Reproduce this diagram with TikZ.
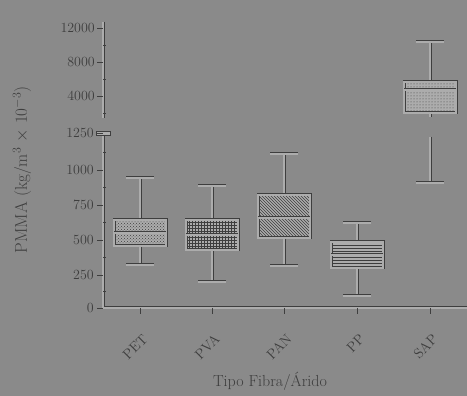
\documentclass[tikz,border=0pt]{standalone}
\usetikzlibrary{patterns}
\definecolor{bg}{RGB}{138,138,138}
\definecolor{ln}{RGB}{172,172,172}
\definecolor{dk}{RGB}{62,62,62}
\begin{document}
\begin{tikzpicture}[x=1pt,y=-1pt,
  emb/.style={draw=dk, double=ln, double distance=2pt, line width=0.5pt},
  thin/.style={draw=dk, line width=0.6pt},
  lbl/.style={text=dk, font=\fontsize{14}{14}\selectfont, inner sep=1pt},
  xlbl/.style={text=dk, font=\fontsize{14}{14}\selectfont, inner sep=1pt, rotate=45, anchor=east}]
\fill[bg] (0,0) rectangle (467,396);
\useasboundingbox (0,0) rectangle (467,396);

% axes
\draw[emb] (103,22) -- (103,118);
\draw[emb] (103,135) -- (103,308) -- (467,308);
\draw[thin, fill=ln] (96,131.5) rectangle (110,135);

% y ticks and labels (upper)
\foreach \y/\t [count=\i] in {28/12000,62/8000,96/4000}{
  \draw[thin] (97,\y) -- (103,\y);
  \node[lbl, anchor=east] (yu\i) at (96,\y) {\t};
}
\foreach \y in {45,79,113}{ \draw[thin] (103,\y) -- (106,\y); }
% y ticks and labels (lower)
\foreach \y/\t [count=\i] in {308/0,275/250,240/500,205/750,170/1000,133/1250}{
  \draw[thin] (97,\y) -- (103,\y);
  \node[lbl, anchor=east] (yl\i) at (95,\y) {\t};
}
\foreach \y in {291,257,222,187,152}{ \draw[thin] (103,\y) -- (106,\y); }

% x ticks and labels
\foreach \x/\t [count=\i] in {140/PET,212/PVA,284/PAN,357/PP,430/SAP}{
  \draw[thin] (\x,308) -- (\x,314);
  \node[xlbl] (xl\i) at (\x+6,336) {\t};
}

% whiskers
\foreach \x/\ct/\bt/\bb/\cb in {140/178/220/246/265,212/186/220/250/282,284/154/195/238/266,357/223/242/268/296}{
  \draw[emb] (\x,\ct) -- (\x,\bt);
  \draw[emb] (\x,\bb) -- (\x,\cb);
  \draw[emb] (\x-14,\ct) -- (\x+14,\ct);
  \draw[emb] (\x-14,\cb) -- (\x+14,\cb);
}
\draw[emb] (430,42) -- (430,82);
\draw[emb] (416,42) -- (444,42);
\draw[emb] (430,113) -- (430,117);
\draw[emb] (430,137) -- (430,183);
\draw[emb] (416,183) -- (444,183);

% boxes
\foreach \x/\bt/\md/\bb/\pat in {140/220/233/246/crosshatch dots,212/220/235/250/grid,284/195/218/238/north west lines,357/242/255/268/horizontal lines,430/82/90/113/dots}{
  \fill[ln] (\x-26,\bt) rectangle (\x+26,\bb);
  \fill[pattern=\pat, pattern color=dk] (\x-26,\bt) rectangle (\x+26,\bb);
  \draw[emb] (\x-26,\bt) rectangle (\x+26,\bb);
  \draw[emb] (\x-26,\md) -- (\x+26,\md);
}

% axis titles
\node[text=dk, font=\fontsize{16}{16}\selectfont] (xt) at (270,381) {Tipo Fibra/Árido};
\node[text=dk, font=\fontsize{17}{17}\selectfont, rotate=90] (yt) at (22,170) {PMMA (kg/m$^3$ $\times$ 10$^{-3}$)};
\end{tikzpicture}
\end{document}
